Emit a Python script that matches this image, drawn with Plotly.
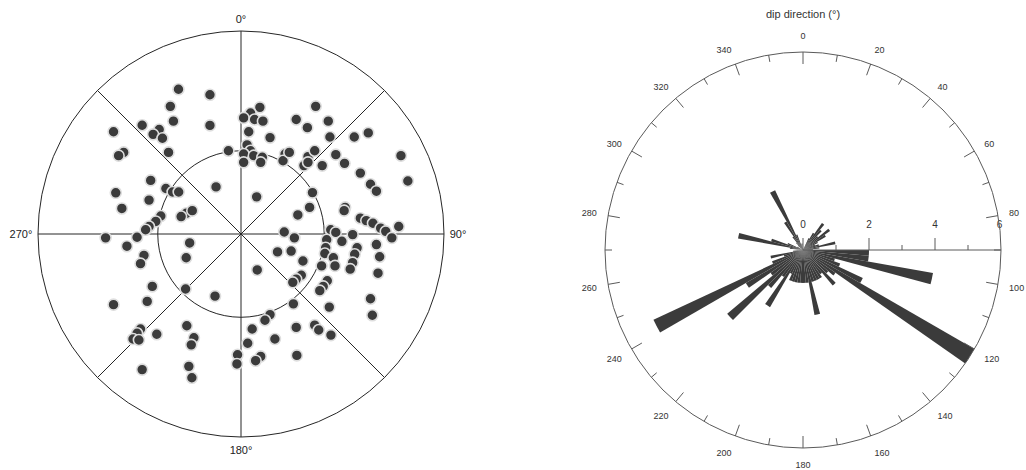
import numpy as np
import plotly.graph_objects as go

# ---- Left net: pole positions, projected east / north on the unit net ----
pole_east = [
    -0.308, -0.153, -0.348, -0.333, -0.487, -0.403, -0.433, -0.387, -0.153, -0.628,
    -0.578, -0.603, -0.357, -0.445, -0.370, -0.337, -0.307, -0.123, -0.617, -0.453,
    -0.587, -0.270, -0.240, -0.295, -0.395, -0.420, -0.453, -0.470, -0.667, -0.512,
    -0.562, -0.478, -0.495, -0.253, -0.270, -0.062, 0.093, 0.047, 0.013, 0.067,
    0.108, 0.038, 0.143, 0.030, 0.047, 0.013, 0.063, 0.105, 0.013, 0.097,
    0.077, 0.368, 0.272, 0.327, 0.430, 0.438, 0.558, 0.627, 0.217, 0.207,
    0.238, 0.330, 0.363, 0.310, 0.330, 0.400, 0.467, 0.510, 0.588, 0.638,
    0.667, 0.788, 0.822, 0.352, 0.338, 0.280, 0.513, 0.508, 0.588, 0.617,
    0.650, 0.688, 0.713, 0.743, 0.777, 0.550, 0.213, 0.263, 0.442, 0.467,
    0.422, 0.497, 0.417, 0.413, 0.180, 0.247, 0.572, 0.560, 0.305, 0.455,
    0.463, 0.667, 0.683, 0.675, 0.550, 0.538, 0.397, 0.080, 0.297, 0.272,
    0.255, 0.425, 0.405, 0.388, 0.638, 0.647, 0.435, 0.258, 0.143, 0.118,
    0.055, 0.272, 0.363, 0.383, 0.443, 0.033, 0.167, 0.097, 0.072, 0.275,
    -0.017, -0.020, -0.273, -0.437, -0.462, -0.628, -0.128, -0.267, -0.232, -0.245,
    -0.495, -0.512, -0.415, -0.532, -0.503, -0.487, -0.257, -0.242,
]
pole_north = [
    0.713, 0.686, 0.629, 0.556, 0.536, 0.515, 0.491, 0.472, 0.535, 0.504,
    0.402, 0.386, 0.402, 0.264, 0.224, 0.207, 0.207, 0.232, 0.203, 0.167,
    0.126, 0.102, 0.115, 0.086, 0.089, 0.062, 0.037, 0.021, -0.019, -0.016,
    -0.060, -0.105, -0.146, -0.044, -0.117, 0.410, 0.624, 0.596, 0.572, 0.564,
    0.556, 0.504, 0.475, 0.439, 0.410, 0.394, 0.386, 0.378, 0.353, 0.353,
    0.183, 0.629, 0.564, 0.524, 0.556, 0.478, 0.478, 0.498, 0.394, 0.361,
    0.402, 0.381, 0.410, 0.337, 0.353, 0.337, 0.391, 0.348, 0.300, 0.245,
    0.211, 0.386, 0.261, 0.204, 0.131, 0.094, 0.131, 0.115, 0.078, 0.066,
    0.053, 0.029, 0.013, -0.019, 0.037, -0.003, 0.010, -0.019, 0.021, 0.008,
    -0.028, -0.036, -0.068, -0.096, -0.088, -0.084, -0.068, -0.100, -0.133, -0.117,
    -0.157, -0.052, -0.112, -0.193, -0.141, -0.173, -0.157, -0.177, -0.203, -0.222,
    -0.238, -0.230, -0.258, -0.279, -0.319, -0.400, -0.360, -0.344, -0.397, -0.425,
    -0.468, -0.460, -0.449, -0.473, -0.498, -0.538, -0.517, -0.603, -0.624, -0.598,
    -0.595, -0.640, -0.271, -0.258, -0.332, -0.348, -0.306, -0.452, -0.511, -0.546,
    -0.468, -0.489, -0.494, -0.517, -0.522, -0.668, -0.652, -0.708,
]

# Reference circle drawn inside the net
inner_circle = 0.41

# ---- Right rose: dip-direction counts in 5 degree classes ----
class_width = 5
class_counts = [
    0, 0, 0, 0, 0, 0.4, 0.6, 1, 0.8, 0.6,          # 0 - 50
    1, 0.8, 0.5, 0.4, 0.5, 1, 0.5, 0.3, 2, 2,      # 50 - 100
    4, 1, 1.2, 2, 6, 1.2, 1, 1.4, 0.9, 1,          # 100 - 150
    1, 1, 1, 2, 1, 1, 1, 1, 1, 1,                  # 150 - 200
    1, 0.8, 2, 1, 1.5, 3, 1.2, 2, 5, 1,            # 200 - 250
    0.6, 1, 0.3, 0, 0, 0.4, 2, 1, 0.5, 0.2,        # 250 - 300
    0, 0, 0.2, 0.3, 0.5, 1, 2, 0.5, 0.2, 0,        # 300 - 350
    0.2, 0,                                        # 350 - 360
]
class_centers = [class_width * i + class_width / 2 for i in range(len(class_counts))]

rose_ticks = list(range(0, 360, 20))
rose_minor_ticks = list(range(10, 360, 20))
radial_major = [0, 2, 4, 6]
radial_minor = [1, 3, 5]
radial_max = 6

FONT = "Liberation Sans, Arial, sans-serif"
LINE_DARK = "#262626"
LINE_GREY = "#5a5a5a"
FILL = "#3b3b3b"
ROSE_RADIUS_PX = 198

pe = np.asarray(pole_east)
pn = np.asarray(pole_north)
pole_theta = np.degrees(np.arctan2(pe, pn)) % 360
pole_r = np.hypot(pe, pn)

fig = go.Figure()

fig.add_trace(go.Scatterpolar(
    theta=pole_theta, r=pole_r, mode="markers", subplot="polar",
    marker=dict(size=11, color=FILL, line=dict(color="#dedede", width=1.6)),
    hoverinfo="skip",
))

fig.add_trace(go.Barpolar(
    theta=class_centers, r=class_counts, width=class_width, subplot="polar2",
    marker=dict(color=FILL, line=dict(color=FILL, width=0)),
    hoverinfo="skip",
))

# rim ticks of the rose, drawn inwards: long every 20 deg, short in between
px_per_unit = ROSE_RADIUS_PX / radial_max
for angles, length_px in ((rose_ticks, 12), (rose_minor_ticks, 7)):
    for a in angles:
        fig.add_trace(go.Scatterpolar(
            theta=[a, a], r=[radial_max, radial_max - length_px / px_per_unit],
            mode="lines", subplot="polar2",
            line=dict(color=LINE_GREY, width=1), hoverinfo="skip",
        ))


def up_offset(v, d):
    """polar position d units north of the value v on the eastward axis,
    kept on the rim when that point would fall outside the plot"""
    r = float(np.hypot(v, d))
    if r > radial_max:
        return float(radial_max), 90 - float(np.degrees(np.arcsin(d / radial_max)))
    return r, 90 - float(np.degrees(np.arctan2(d, v)))


# radial scale ticks (pointing north of the east-running axis) and labels
for values, length_px in ((radial_major[:-1], 12), (radial_minor, 5)):
    for v in values:
        r_end, th_end = up_offset(v, length_px / px_per_unit)
        fig.add_trace(go.Scatterpolar(
            theta=[90, th_end], r=[v, r_end], mode="lines", subplot="polar2",
            line=dict(color=LINE_GREY, width=1), hoverinfo="skip",
        ))

lab = [up_offset(v, 25 / px_per_unit) for v in radial_major]
fig.add_trace(go.Scatterpolar(
    r=[p[0] for p in lab], theta=[p[1] for p in lab],
    mode="text", text=[str(v) for v in radial_major], textposition="middle center",
    textfont=dict(size=10, color="#333333", family=FONT),
    subplot="polar2", hoverinfo="skip", cliponaxis=False,
))

net_ticktext = ["0°", "", "90°", "", "180°", "", "270°", ""]

rose_cx, rose_cy = 803, 470 - 250
fig.update_layout(
    width=1026, height=470,
    margin=dict(l=0, r=0, t=0, b=0),
    paper_bgcolor="white", plot_bgcolor="white",
    showlegend=False,
    font=dict(family=FONT, color="#222222"),
    polar=dict(
        domain=dict(x=[0.03704, 0.43275], y=[0.0702, 0.9340]),
        bgcolor="white",
        angularaxis=dict(
            direction="clockwise", rotation=90,
            tickmode="array", tickvals=list(range(0, 360, 45)), ticktext=net_ticktext,
            ticks="outside", ticklen=3, tickcolor="rgba(0,0,0,0)",
            showgrid=True, gridcolor=LINE_DARK, gridwidth=1,
            showline=True, linecolor=LINE_DARK, linewidth=1,
            tickfont=dict(size=11, color="#222222"),
        ),
        radialaxis=dict(
            range=[0, 1], tickmode="array", tickvals=[inner_circle],
            showticklabels=False, ticks="", showline=False,
            showgrid=True, gridcolor=LINE_DARK, gridwidth=1,
        ),
    ),
    polar2=dict(
        domain=dict(
            x=[(rose_cx - ROSE_RADIUS_PX) / 1026, (rose_cx + ROSE_RADIUS_PX) / 1026],
            y=[(rose_cy - ROSE_RADIUS_PX) / 470, (rose_cy + ROSE_RADIUS_PX) / 470],
        ),
        bgcolor="white",
        bargap=0,
        angularaxis=dict(
            direction="clockwise", rotation=90,
            tickmode="array", tickvals=rose_ticks,
            ticktext=[str(t) for t in rose_ticks],
            ticks="outside", ticklen=9, tickcolor="rgba(0,0,0,0)",
            showgrid=False, showline=True, linecolor=LINE_GREY, linewidth=1,
            tickfont=dict(size=9, color="#333333"),
        ),
        radialaxis=dict(
            range=[0, radial_max], angle=0, side="counterclockwise",
            tickmode="array", tickvals=radial_major,
            showticklabels=False, ticks="",
            showline=True, linecolor=LINE_GREY, linewidth=1,
            showgrid=False,
        ),
    ),
    annotations=[dict(
        text="dip direction (°)", x=0.7827, y=0.970, xref="paper", yref="paper",
        xanchor="center", yanchor="middle", showarrow=False,
        font=dict(size=11, color="#333333", family=FONT),
    )],
)

fig.write_html("out.html")
